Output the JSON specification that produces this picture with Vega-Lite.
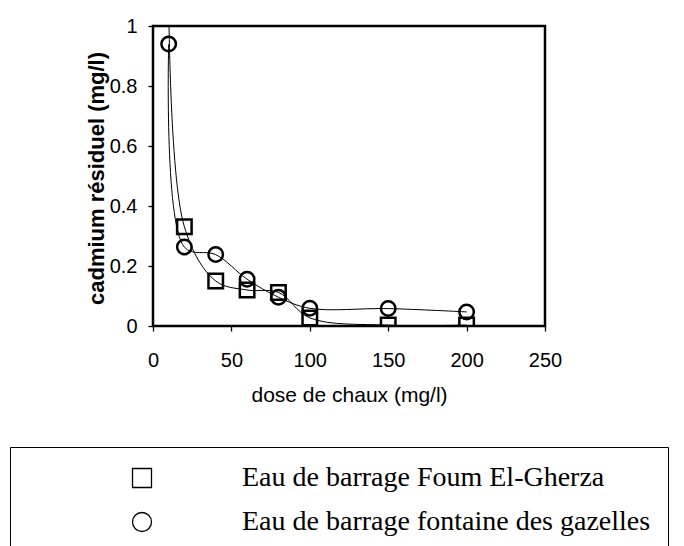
{
  "$schema": "https://vega.github.io/schema/vega-lite/v6.json",
  "width": 392,
  "height": 300,
  "autosize": {"type": "none"},
  "padding": {"left": 153, "top": 26, "right": 139, "bottom": 220},
  "background": "white",
  "config": {
    "view": {"stroke": "black", "strokeWidth": 2.5},
    "axis": {
      "domain": false,
      "grid": false,
      "tickColor": "black",
      "tickWidth": 1.3,
      "tickSize": 5,
      "labelColor": "black",
      "labelFont": "Liberation Sans",
      "labelFontSize": 20,
      "titleColor": "black",
      "titleFont": "Liberation Sans"
    }
  },
  "data": {
    "values": [
      {"serie": "Eau de barrage Foum El-Gherza", "dose": 10, "cd": 1.1},
      {"serie": "Eau de barrage Foum El-Gherza", "dose": 20, "cd": 0.331},
      {"serie": "Eau de barrage Foum El-Gherza", "dose": 40, "cd": 0.15},
      {"serie": "Eau de barrage Foum El-Gherza", "dose": 60, "cd": 0.12},
      {"serie": "Eau de barrage Foum El-Gherza", "dose": 80, "cd": 0.112},
      {"serie": "Eau de barrage Foum El-Gherza", "dose": 100, "cd": 0.027},
      {"serie": "Eau de barrage Foum El-Gherza", "dose": 150, "cd": 0.003},
      {"serie": "Eau de barrage Foum El-Gherza", "dose": 200, "cd": 0.003},
      {"serie": "Eau de barrage fontaine des gazelles", "dose": 10, "cd": 0.94},
      {"serie": "Eau de barrage fontaine des gazelles", "dose": 20, "cd": 0.263},
      {"serie": "Eau de barrage fontaine des gazelles", "dose": 40, "cd": 0.238},
      {"serie": "Eau de barrage fontaine des gazelles", "dose": 60, "cd": 0.156},
      {"serie": "Eau de barrage fontaine des gazelles", "dose": 80, "cd": 0.096},
      {"serie": "Eau de barrage fontaine des gazelles", "dose": 100, "cd": 0.059},
      {"serie": "Eau de barrage fontaine des gazelles", "dose": 150, "cd": 0.058},
      {"serie": "Eau de barrage fontaine des gazelles", "dose": 200, "cd": 0.047}
    ]
  },
  "encoding": {
    "x": {
      "field": "dose",
      "type": "quantitative",
      "scale": {"domain": [0, 250], "nice": false},
      "axis": {
        "values": [0, 50, 100, 150, 200, 250],
        "title": "dose de chaux (mg/l)",
        "titleFontSize": 21,
        "titleFontWeight": "normal",
        "titleY": 75,
        "titleBaseline": "alphabetic",
        "labelPadding": 19,
        "labelFlush": false
      }
    },
    "y": {
      "field": "cd",
      "type": "quantitative",
      "scale": {"domain": [0, 1], "nice": false},
      "axis": {
        "values": [0, 0.2, 0.4, 0.6, 0.8, 1],
        "format": "~g",
        "title": "cadmium résiduel (mg/l)",
        "titleFontSize": 22,
        "titleFontWeight": "bold",
        "titleX": -57,
        "titleY": 152,
        "titleAngle": 270,
        "titleAlign": "center",
        "titleBaseline": "middle",
        "labelPadding": 11,
        "labelFlush": false
      }
    }
  },
  "layer": [
    {
      "mark": {"type": "line", "interpolate": "catmull-rom", "color": "black", "strokeWidth": 1, "clip": true},
      "encoding": {"detail": {"field": "serie"}}
    },
    {
      "mark": {"type": "point", "filled": false, "stroke": "black", "strokeWidth": 2.5, "size": 210, "opacity": 1, "clip": true},
      "encoding": {
        "shape": {
          "field": "serie",
          "scale": {"domain": ["Eau de barrage Foum El-Gherza", "Eau de barrage fontaine des gazelles"], "range": ["square", "circle"]},
          "legend": {
            "orient": "none",
            "legendX": -143,
            "legendY": 421,
            "title": null,
            "padding": 17,
            "strokeColor": "black",
            "fillColor": "white",
            "labelFont": "Liberation Serif",
            "labelFontSize": 28,
            "labelColor": "black",
            "labelLimit": 0,
            "labelOffset": 86,
            "symbolOffset": 101,
            "symbolSize": 360,
            "symbolStrokeWidth": 1.3,
            "symbolStrokeColor": "black",
            "symbolOpacity": 1,
            "rowPadding": 16
          }
        }
      }
    }
  ]
}
